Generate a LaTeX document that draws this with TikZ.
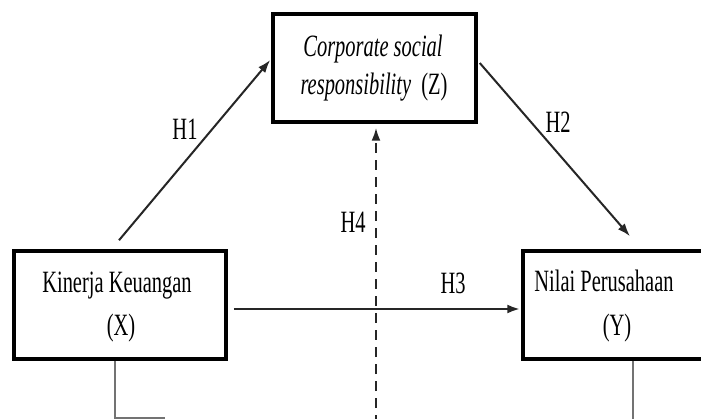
\documentclass[tikz,border=0pt]{standalone}
\usepackage{fontspec}
\setmainfont{Liberation Serif}[FakeStretch=0.66]
\usetikzlibrary{arrows.meta}
\begin{document}
\begin{tikzpicture}[x=1pt,y=-1pt,
  box/.style={draw=black,line width=3.5pt,minimum width=#1,minimum height=108pt,inner sep=0pt},
  txt/.style={font=\fontsize{31}{36}\selectfont,inner sep=0pt},
  hlab/.style={font=\fontsize{31}{36}\selectfont,inner sep=0pt},
  conn/.style={line width=2pt,draw=black!85,-{Latex[length=13pt,width=9pt]}},
  plain/.style={line width=2pt,draw=black!55}]
\clip (0,0) rectangle (701,419);
\fill[white] (0,0) rectangle (701,419);
% boxes
\node[box=203pt] (Z) at (374.5,68) {};
\node[box=212pt] (X) at (120,305) {};
\node[box=217pt] (Y) at (631.5,305) {};
% texts
\node[txt,anchor=base] (z1) at (373,57) {\itshape Corporate social};
\node[txt,anchor=base] (z2) at (374,95) {\itshape responsibility\upshape\ \ (Z)};
\node[txt,anchor=base] (x1) at (117,293) {Kinerja Keuangan};
\node[txt,anchor=base] (x2) at (121,336) {(X)};
\node[txt,anchor=base] (y1) at (604,292) {Nilai Perusahaan};
\node[txt,anchor=base] (y2) at (617,336) {(Y)};
% labels
\node[hlab] (h1) at (185,129) {H1};
\node[hlab] (h2) at (558,122) {H2};
\node[hlab] (h3) at (453,283) {H3};
\node[hlab] (h4) at (353,222) {H4};
% connectors
\draw[conn] ([xshift=-1pt,yshift=9pt]X.north) -- ([xshift=-1pt,yshift=8pt]Z.west);
\draw[conn] ([xshift=2pt,yshift=5pt]Z.east) -- ([xshift=-1.5pt,yshift=13pt]Y.north);
\draw[conn,line width=2.5pt] ([xshift=6pt,yshift=-4pt]X.east) -- ([xshift=-1pt,yshift=-4pt]Y.west);
\coordinate (h4s) at (376,425);
\draw[conn,dash pattern=on 10pt off 7pt] (h4s) -- ([xshift=1.5pt,yshift=-4pt]Z.south);
\coordinate (xb1) at (115,418);
\coordinate (xb2) at (165,418);
\draw[plain] ([xshift=-5pt]X.south) -- (xb1) -- (xb2);
\coordinate (yb1) at (633,425);
\draw[plain] ([xshift=1.5pt]Y.south) -- (yb1);
\end{tikzpicture}
\end{document}
